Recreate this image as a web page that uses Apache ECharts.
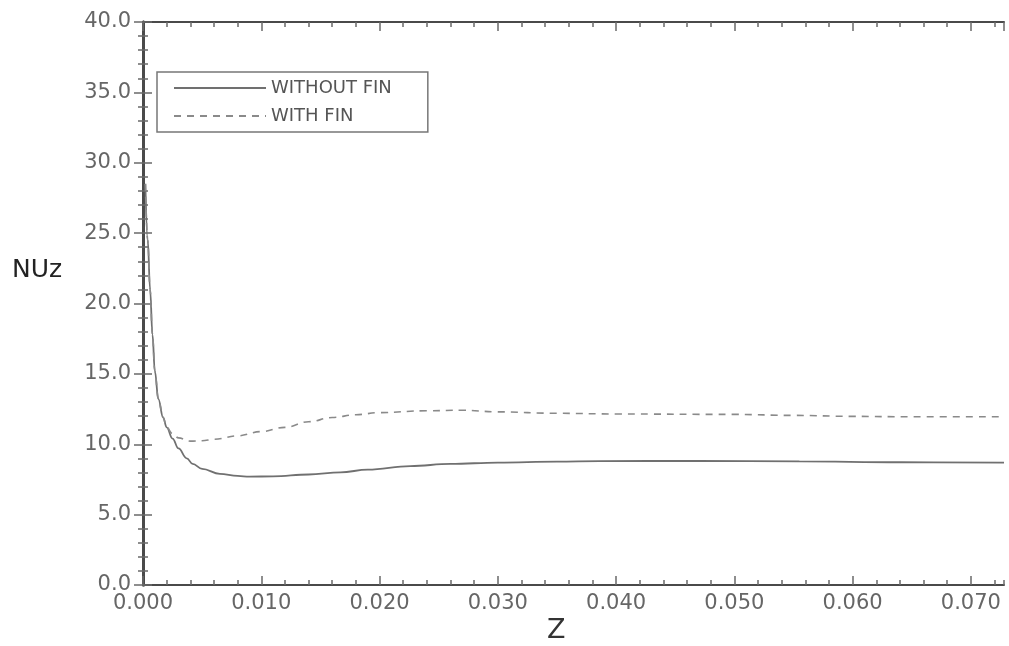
<!DOCTYPE html>
<html>
<head>
<meta charset="utf-8">
<script src="https://cdn.jsdelivr.net/npm/echarts@6/dist/echarts.min.js"></script>
<style>
  html, body { margin: 0; padding: 0; background: #fff; }
  #chart { width: 1009px; height: 646px; }
</style>
</head>
<body>
<div id="chart"></div>
<script>
// values: axial position Z and local Nusselt number NUz
const zShared = [0.0002, 0.0004, 0.0006, 0.0008, 0.001, 0.0013, 0.0017, 0.002];
const nuShared = [28.5, 24.5, 21.0, 17.8, 15.2, 13.2, 11.9, 11.2];

const zWithout = [0.0025, 0.003, 0.0037, 0.0042, 0.005, 0.0065, 0.008, 0.009, 0.011, 0.014, 0.0167,
    0.019, 0.0226, 0.026, 0.030, 0.035, 0.0386, 0.047, 0.0555, 0.064, 0.0728];
const nuWithout = [10.4, 9.7, 9.0, 8.6, 8.25, 7.9, 7.75, 7.7, 7.72, 7.85, 8.0,
    8.2, 8.45, 8.6, 8.7, 8.77, 8.8, 8.82, 8.78, 8.72, 8.7];

const zWith = [0.0025, 0.003, 0.004, 0.005, 0.006, 0.008, 0.010, 0.012, 0.014, 0.016, 0.018,
    0.020, 0.024, 0.027, 0.030, 0.035, 0.040, 0.050, 0.055, 0.060, 0.065, 0.0728];
const nuWith = [10.75, 10.45, 10.22, 10.25, 10.35, 10.6, 10.9, 11.2, 11.6, 11.9, 12.1,
    12.25, 12.38, 12.42, 12.3, 12.2, 12.15, 12.12, 12.05, 11.98, 11.95, 11.95];

const seriesNames = ['WITHOUT FIN', 'WITH FIN'];
const xRange = [0, 0.0728];
const yRange = [0, 40];

const pairs = (xs, ys) => xs.map((x, i) => [x, ys[i]]);

const frameColor = '#4a4a4a';
const tickColor = '#6a6a6a';
const labelFont = 'DejaVu Sans, sans-serif';

const xAxisBase = (position, interval, tickLen, withLabels, withLine) => ({
    type: 'value',
    position,
    min: xRange[0],
    max: xRange[1],
    interval,
    axisLine: { show: withLine, lineStyle: { color: frameColor, width: 2 } },
    axisTick: { show: true, inside: true, length: tickLen, lineStyle: { color: tickColor, width: 1.5 } },
    axisLabel: {
        show: withLabels,
        showMaxLabel: false,
        color: '#666',
        fontSize: 21,
        fontFamily: labelFont,
        margin: 8,
        formatter: (v) => Number(v).toFixed(3),
    },
    splitLine: { show: false },
});

const yAxisBase = (position, withLabels) => ({
    type: 'value',
    position,
    min: yRange[0],
    max: yRange[1],
    interval: 5,
    axisLine: { show: true, lineStyle: { color: frameColor, width: 3 } },
    axisTick: { show: true, inside: true, length: 9, lineStyle: { color: tickColor, width: 1.5 } },
    minorTick: { show: true, splitNumber: 5, length: 5, lineStyle: { color: tickColor, width: 1.5 } },
    axisLabel: {
        show: withLabels,
        color: '#666',
        fontSize: 21,
        fontFamily: labelFont,
        margin: 12,
        formatter: (v) => Number(v).toFixed(1),
    },
    splitLine: { show: false },
});

const chart = echarts.init(document.getElementById('chart'), null, { renderer: 'canvas' });

chart.setOption({
    backgroundColor: '#fff',
    animation: false,
    grid: { left: 143, right: 5, top: 22, bottom: 61 },
    xAxis: [
        xAxisBase('bottom', 0.01, 9, true, true),
        xAxisBase('bottom', 0.002, 5, false, false),
        xAxisBase('top', 0.01, 9, false, true),
        xAxisBase('top', 0.002, 5, false, false),
    ],
    yAxis: [
        yAxisBase('left', true),
        yAxisBase('right', false),
    ],
    legend: {
        orient: 'vertical',
        left: 157,
        top: 72,
        data: seriesNames,
        itemWidth: 92,
        itemHeight: 14,
        itemGap: 10,
        padding: [7, 36, 7, 16],
        borderColor: '#777',
        borderWidth: 1.5,
        // line samples only, no marker dot
        itemStyle: { color: 'transparent', borderWidth: 0, opacity: 0 },
        textStyle: { color: '#555', fontSize: 18, fontFamily: labelFont },
    },
    graphic: [
        {
            type: 'text',
            left: 12,
            top: 258,
            style: { text: 'NUz', fill: '#222', font: '25px ' + labelFont },
        },
        {
            type: 'text',
            left: 547,
            top: 617,
            style: { text: 'Z', fill: '#333', font: '27px ' + labelFont },
        },
    ],
    series: [
        {
            name: seriesNames[0],
            type: 'line',
            xAxisIndex: 0,
            yAxisIndex: 0,
            data: pairs(zShared.concat(zWithout), nuShared.concat(nuWithout)),
            symbol: 'none',
            smooth: 0.4,
            smoothMonotone: 'x',
            lineStyle: { color: '#707070', width: 1.8, type: 'solid' },
            itemStyle: { color: '#707070' },
        },
        {
            name: seriesNames[1],
            type: 'line',
            xAxisIndex: 0,
            yAxisIndex: 0,
            data: pairs(zShared.concat(zWith), nuShared.concat(nuWith)),
            symbol: 'none',
            smooth: 0.4,
            smoothMonotone: 'x',
            lineStyle: { color: '#8a8a8a', width: 1.6, type: [7, 6] },
            itemStyle: { color: '#8a8a8a' },
        },
    ],
});
</script>
</body>
</html>
